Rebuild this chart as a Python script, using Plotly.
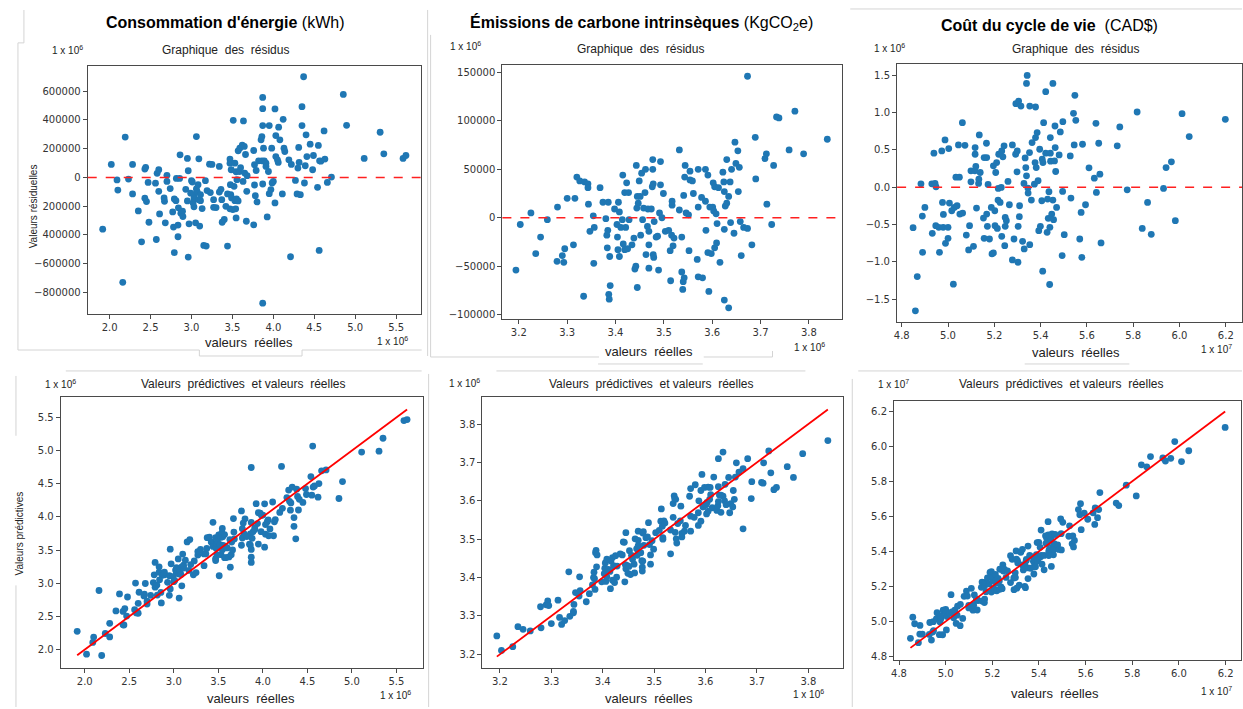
import plotly.graph_objects as go

# ---------------- DATA ----------------
# Energy consumption: actual values (x 1e6 kWh) and residuals (x 1000 kWh)
energy_actual = [1.915,2.02,2.09,2.10,2.19,2.16,2.23,2.28,2.28,2.35,
 2.39,2.43,2.44,2.43,2.45,2.47,2.48,2.57,2.56,2.58,
 2.60,2.60,2.61,2.665,2.67,2.68,2.70,2.70,2.74,2.77,
 2.78,2.79,2.79,2.81,2.815,2.835,2.835,2.84,2.855,2.86,
 2.87,2.89,2.895,2.93,2.95,2.95,2.96,2.96,2.97,2.99,
 3.00,3.01,3.02,3.03,3.03,3.03,3.05,3.06,3.06,3.07,
 3.08,3.09,3.09,3.10,3.11,3.11,3.13,3.15,3.17,3.18,
 3.19,3.22,3.23,3.25,3.27,3.27,3.30,3.34,3.34,3.36,
 3.37,3.375,3.40,3.42,3.44,3.44,3.47,3.47,3.47,3.475,
 3.48,3.485,3.49,3.505,3.51,3.52,3.53,3.53,3.54,3.545,
 3.545,3.55,3.555,3.57,3.57,3.585,3.59,3.60,3.62,3.63,
 3.635,3.645,3.65,3.66,3.67,3.675,3.68,3.76,3.76,3.77,
 3.77,3.78,3.79,3.80,3.82,3.85,3.86,3.86,3.87,3.87,
 3.87,3.87,3.87,3.88,3.89,3.91,3.91,3.925,3.94,3.95,
 3.95,3.97,3.98,3.985,4.00,4.02,4.02,4.03,4.03,4.05,
 4.06,4.065,4.08,4.11,4.12,4.13,4.14,4.19,4.21,4.22,
 4.27,4.29,4.30,4.31,4.315,4.33,4.35,4.35,4.37,4.38,
 4.39,4.40,4.41,4.45,4.48,4.49,4.54,4.55,4.56,4.565,
 4.58,4.62,4.63,4.66,4.71,4.855,4.895,5.11,5.305,5.35,
 5.585,5.62]
energy_resid_k = [-360,90,-18,-88,280,-730,-12,90,-115,-233,
 -448,58,70,-145,-168,-35,-312,-432,-40,28,
 53,-97,-254,-143,-166,-316,14,-28,-78,-240,
 -346,-524,-150,-162,-7,-332,-413,-212,-7,157,
 -249,-235,-272,-83,132,-164,46,-554,-323,-110,
 -23,-32,-178,-143,-205,-120,-316,-80,284,-101,
 -51,-155,129,-339,-120,-162,-217,-473,-23,-478,
 -92,92,-106,90,-155,-208,-210,76,-102,-83,
 -155,-312,-293,-201,-115,-478,127,99,-219,-51,
 -120,53,-143,-224,397,-62,99,-162,-219,39,
 -282,-150,-16,185,-164,41,203,67,224,-28,
 393,215,30,159,-305,-97,12,-330,187,88,
 -53,-127,48,-171,115,261,284,115,-46,360,
 478,556,-875,203,115,99,76,-275,41,-113,
 360,-85,203,-39,-28,-178,476,291,145,122,
 104,349,261,-115,404,203,180,122,-552,90,
 -21,-115,65,208,104,-120,360,492,700,-39,
 81,296,145,231,53,152,-69,222,-508,115,
 113,323,127,-35,2,577,362,132,314,164,
 132,152]

# Embodied carbon: actual (x 1e6 kgCO2e) and residuals (x 1000 kgCO2e)
carbon_actual = [3.194,3.203,3.225,3.235,3.245,3.259,3.279,3.280,3.29,3.293,
 3.295,3.300,3.313,3.316,3.32,3.326,3.334,3.336,3.343,3.343,
 3.344,3.347,3.354,3.356,3.355,3.368,3.374,3.380,3.384,3.382,
 3.383,3.385,3.386,3.387,3.389,3.388,3.398,3.403,3.404,3.405,
 3.406,3.408,3.408,3.411,3.414,3.415,3.416,3.419,3.419,3.421,
 3.423,3.425,3.427,3.428,3.434,3.438,3.44,3.442,3.443,3.444,
 3.445,3.445,3.447,3.449,3.451,3.452,3.454,3.456,3.458,3.461,
 3.462,3.463,3.466,3.467,3.469,3.469,3.469,3.474,3.476,3.477,
 3.477,3.478,3.478,3.479,3.48,3.484,3.487,3.489,3.491,3.493,
 3.493,3.496,3.499,3.503,3.510,3.514,3.513,3.517,3.517,3.516,
 3.519,3.521,3.532,3.532,3.537,3.537,3.539,3.54,3.542,3.541,
 3.544,3.543,3.546,3.551,3.552,3.554,3.554,3.559,3.561,3.569,
 3.571,3.571,3.571,3.580,3.578,3.586,3.587,3.586,3.591,3.591,
 3.593,3.595,3.598,3.601,3.602,3.603,3.605,3.605,3.608,3.609,
 3.61,3.616,3.613,3.622,3.625,3.625,3.624,3.625,3.627,3.63,
 3.63,3.634,3.634,3.637,3.638,3.64,3.645,3.647,3.649,3.653,
 3.654,3.656,3.658,3.66,3.665,3.673,3.673,3.682,3.689,3.69,
 3.709,3.712,3.713,3.723,3.727,3.733,3.738,3.759,3.771,3.789,
 3.838]
carbon_resid_k = [-54,-7,5,-37,-20,-2,-45,11,-39,-46,
 -32,20,-28,20,42,38,-81,37,35,31,
 14,-14,2,-10,-47,31,16,-1,-13,-18,
 -31,16,-79,-84,-70,-40,9,-7,-20,-33,
 16,6,-40,-10,-2,44,-27,-33,26,-10,
 36,-32,26,-2,-28,-21,-53,-50,54,10,
 22,-72,15,38,22,-18,46,-2,10,26,
 50,-38,-9,9,-52,-28,-14,9,32,60,
 50,35,-38,-41,-4,-20,-19,-54,5,58,
 34,0,25,-14,-13,-65,-34,13,17,-18,
 -29,-21,70,8,-20,-56,-74,-66,-62,23,
 54,42,5,3,-34,48,39,38,25,-43,
 50,11,-61,-62,21,50,-13,17,44,-36,
 -76,11,-37,11,36,7,32,-31,4,-26,
 -6,-46,31,47,-12,-85,37,27,12,15,
 60,22,-93,37,-5,50,-16,78,56,69,
 27,52,-4,-39,-10,146,-11,-28,83,40,
 61,66,14,-7,54,104,103,70,110,66,
 81]

# Life-cycle cost: actual (x 1e7 CAD$) and residuals (x 1e6 CAD$)
cost_actual = [4.849,4.859,4.867,4.883,4.889,4.890,4.900,4.932,4.930,4.939,
 4.944,4.948,4.947,4.963,4.960,4.973,4.976,4.980,4.979,4.987,
 4.989,5.000,5.000,5.003,5.006,5.016,5.027,5.023,5.034,5.039,
 5.045,5.049,5.051,5.062,5.063,5.073,5.079,5.089,5.093,5.099,
 5.099,5.110,5.116,5.117,5.117,5.120,5.123,5.132,5.135,5.133,
 5.139,5.153,5.156,5.156,5.167,5.167,5.166,5.170,5.173,5.179,
 5.187,5.190,5.196,5.196,5.202,5.203,5.206,5.210,5.213,5.216,
 5.217,5.219,5.225,5.230,5.232,5.232,5.237,5.242,5.245,5.247,
 5.247,5.252,5.259,5.265,5.278,5.278,5.285,5.293,5.292,5.298,
 5.299,5.302,5.303,5.305,5.309,5.308,5.315,5.322,5.329,5.328,
 5.333,5.336,5.339,5.339,5.342,5.345,5.346,5.352,5.353,5.353,
 5.360,5.363,5.373,5.378,5.376,5.378,5.381,5.385,5.389,5.392,
 5.396,5.399,5.405,5.409,5.407,5.413,5.410,5.422,5.422,5.428,
 5.430,5.433,5.436,5.439,5.440,5.442,5.443,5.442,5.448,5.453,
 5.453,5.456,5.460,5.462,5.463,5.465,5.469,5.480,5.485,5.495,
 5.496,5.493,5.502,5.528,5.531,5.542,5.545,5.548,5.552,5.569,
 5.575,5.578,5.581,5.594,5.609,5.632,5.639,5.641,5.651,5.656,
 5.661,5.731,5.742,5.774,5.817,5.839,5.862,5.878,5.931,5.942,
 5.965,5.982,6.011,6.042,6.198]
cost_resid_m = [-0.543,-1.655,-1.197,0.044,-0.387,-0.872,-0.271,-0.618,0.044,0.454,
 0.049,0.004,-0.516,-0.872,-0.538,0.485,-0.205,-0.365,-0.538,0.632,
 -0.752,-0.685,-0.538,0.516,-0.214,-0.316,-0.271,-1.299,0.133,-0.249,
 0.565,0.133,-0.360,0.863,-0.347,0.560,-0.641,-0.841,-0.516,0.071,
 0.218,-0.792,0.218,0.529,0.440,0.276,-0.280,0.049,0.698,0.107,
 0.196,-0.414,-0.685,0.396,-0.360,0.396,0.587,-0.525,0.036,-0.694,
 -0.271,-0.894,-0.881,0.285,-0.316,-0.516,0.196,0.329,-0.552,-0.173,
 -0.018,0.440,-0.205,-0.004,-0.658,0.485,0.405,0.552,-0.783,-0.405,
 -0.525,-0.449,0.076,-0.236,0.565,-0.974,-0.694,1.117,0.440,0.205,
 0.485,-1.005,-0.525,1.152,-0.249,-0.396,1.085,-0.725,-0.827,0.049,
 0.391,0.262,0.151,1.388,1.495,-0.013,-0.080,0.463,1.085,-0.770,
 -0.173,0.596,0.040,1.072,0.329,0.663,0.262,0.730,0.085,-0.583,
 0.507,-0.525,-0.182,-1.125,0.374,0.863,0.329,1.277,0.454,-0.605,
 -0.160,-0.418,-0.062,-1.303,-0.538,0.663,0.347,0.454,-0.360,1.388,
 -0.173,-0.436,0.351,0.818,0.529,0.209,-0.271,0.431,0.738,-0.058,
 0.876,-0.916,-0.636,0.418,-0.147,0.988,0.565,1.228,0.894,-0.694,
 -0.338,-0.939,0.574,-0.236,0.258,0.120,0.854,-0.071,0.587,0.173,
 -0.747,0.552,0.805,-0.036,1.005,-0.552,-0.205,-0.632,-0.018,0.262,
 0.338,-0.449,0.983,0.676,0.907]

# Tick labels
energy_res_ticks = [-800000,-600000,-400000,-200000,0,200000,400000,600000]
energy_res_labels = ["\u2212800000","\u2212600000","400000","200000","0","200000","400000","600000"]
carbon_res_ticks = [-100000,-50000,0,50000,100000,150000]
carbon_res_labels = ["\u2212100000","\u221250000","0","50000","100000","150000"]
cost_res_ticks = [-1.5,-1.0,-0.5,0.0,0.5,1.0,1.5]
cost_res_labels = ["\u22121.5","\u22121.0","\u22120.5","0.0","0.5","1.0","1.5"]
energy_ticks = [2.0,2.5,3.0,3.5,4.0,4.5,5.0,5.5]
carbon_ticks = [3.2,3.3,3.4,3.5,3.6,3.7,3.8]
cost_ticks = [4.8,5.0,5.2,5.4,5.6,5.8,6.0,6.2]

# Derived: residual value in kWh / kgCO2e, and predicted = actual - residual (same scale as actual)
energy_resid = [r * 1000 for r in energy_resid_k]
carbon_resid = [r * 1000 for r in carbon_resid_k]
energy_pred = [a - r / 1e6 for a, r in zip(energy_actual, energy_resid)]
carbon_pred = [a - r / 1e6 for a, r in zip(carbon_actual, carbon_resid)]
cost_pred = [a - r / 10 for a, r in zip(cost_actual, cost_resid_m)]

# ---------------- FIGURE ----------------
W, H = 1243, 709
def fx(p): return p / W
def fy(p): return 1 - p / H

BLUE = "#1f77b4"
TICKFONT = dict(family="DejaVu Sans", size=10, color="#333333")
TXT = "Liberation Sans"

fig = go.Figure()

def axis(dom, rng, tickvals, anchor, ticktext=None, fmt=None):
    d = dict(domain=dom, range=rng, tickvals=tickvals, anchor=anchor,
             showline=True, mirror=True, linecolor="#4a4a4a", linewidth=1.2,
             ticks="outside", ticklen=4, tickcolor="#4a4a4a", tickwidth=1,
             showgrid=False, zeroline=False, tickfont=TICKFONT, fixedrange=True)
    if ticktext is not None:
        d["ticktext"] = ticktext
    if fmt is not None:
        d["tickformat"] = fmt
    return d

panels = [
    # (xdom px, ydom px, xrange, yrange, xticks, yticks, yticktext, xfmt, yfmt)
    ((85, 419), (66, 315), [1.732, 5.80], [-951000, 776000], energy_ticks, energy_res_ticks, energy_res_labels, ".1f", None),
    ((501, 842), (65, 320), [3.166, 3.869], [-104600, 157800], carbon_ticks, carbon_res_ticks, carbon_res_labels, ".1f", None),
    ((897, 1243), (64, 323), [4.78, 6.27], [-1.806, 1.65], cost_ticks, cost_res_ticks, cost_res_labels, ".1f", None),
    ((58, 421), (398, 670), [1.731, 5.795], [1.72, 5.81], energy_ticks, energy_ticks, None, ".1f", ".1f"),
    ((481, 843), (398, 670), [3.166, 3.868], [3.164, 3.871], carbon_ticks, carbon_ticks, None, ".1f", ".1f"),
    ((894, 1242), (402, 662), [4.779, 6.266], [4.779, 6.259], cost_ticks, cost_ticks, None, ".1f", ".1f"),
]

layout_axes = {}
for i, (xd, yd, xr, yr, xt, yt, ytt, xf, yf) in enumerate(panels, start=1):
    sfx = "" if i == 1 else str(i)
    layout_axes["xaxis" + sfx] = axis([fx(xd[0]), fx(xd[1])], xr, xt, "y" + sfx, fmt=xf)
    layout_axes["yaxis" + sfx] = axis([fy(yd[1]), fy(yd[0])], yr, yt, "x" + sfx, ticktext=ytt, fmt=yf)

series = [
    (energy_actual, energy_resid),
    (carbon_actual, carbon_resid),
    (cost_actual, cost_resid_m),
    (energy_actual, energy_pred),
    (carbon_actual, carbon_pred),
    (cost_actual, cost_pred),
]
for i, (xs, ys) in enumerate(series, start=1):
    sfx = "" if i == 1 else str(i)
    fig.add_trace(go.Scatter(x=xs, y=ys, mode="markers", xaxis="x" + sfx, yaxis="y" + sfx,
                             marker=dict(color=BLUE, size=6.8, line=dict(width=0)),
                             showlegend=False, hoverinfo="skip"))

# identity lines in prediction panels (min..max of actual values)
for i, xs in [(4, energy_actual), (5, carbon_actual), (6, cost_actual)]:
    lo, hi = min(xs), max(xs)
    fig.add_trace(go.Scatter(x=[lo, hi], y=[lo, hi], mode="lines", xaxis="x" + str(i), yaxis="y" + str(i),
                             line=dict(color="#ff0000", width=1.8), showlegend=False, hoverinfo="skip"))

shapes = []
# zero lines in residual panels
for i in (1, 2, 3):
    sfx = "" if i == 1 else str(i)
    shapes.append(dict(type="line", xref="x" + sfx + " domain", yref="y" + sfx, x0=0, x1=1, y0=0, y1=0,
                       line=dict(color="#ff2020", width=1.5, dash="dash")))

# faint frame lines of the original slide composition
deco = [(21, 10, 21, 43), (15, 43, 21, 43), (15, 43, 15, 351), (15, 351, 197, 351), (197, 351, 197, 357),
        (197, 357, 300, 357), (300, 357, 300, 351), (300, 351, 420, 351), (426, 10, 426, 357),
        (429, 35, 429, 358), (429, 358, 598, 358), (703, 358, 772, 358), (772, 352, 772, 358),
        (850, 9, 1243, 9),
        (63, 372, 420, 372), (13, 377, 13, 437), (13, 587, 13, 709),
        (495, 372, 805, 372), (597, 365, 702, 365), (427, 375, 427, 709),
        (858, 372, 1243, 372), (852, 380, 852, 709), (1025, 365, 1130, 365)]
for x0, y0, x1, y1 in deco:
    shapes.append(dict(type="line", xref="paper", yref="paper", x0=fx(x0), y0=fy(y0), x1=fx(x1), y1=fy(y1),
                       line=dict(color="#d4d4d4", width=1), layer="below"))

ann = []
def text(s, x, y, size, family=TXT, color="#111111", angle=0):
    ann.append(dict(text=s, x=fx(x), y=fy(y), xref="paper", yref="paper", showarrow=False,
                    xanchor="center", yanchor="middle", textangle=angle,
                    font=dict(family=family, size=size, color=color)))

# main titles
text("<b>Consommation d'énergie</b> (kWh)", 223, 23, 16, color="#000000")
text("<b>Émissions de carbone intrinsèques</b> (KgCO<sub>2</sub>e)", 641, 23, 16, color="#000000")
text("<b>Coût du cycle de vie</b>  (CAD$)", 1050, 26, 16, color="#000000")

# subplot titles
for x, y in [(223, 50), (640, 49), (1076, 49)]:
    text("Graphique\u00a0 des\u00a0 résidus", x, y, 12, color="#222222")
for x, y in [(241, 385), (651, 385), (1062, 385)]:
    text("Valeurs\u00a0 prédictives\u00a0 et valeurs\u00a0 réelles", x, y, 12, color="#222222")

# x-axis titles
for x, y in [(247, 343), (648, 352), (1076, 353), (249, 700), (648, 700), (1055, 695)]:
    text("valeurs\u00a0 réelles", x, y, 13, color="#222222")

# y-axis titles
text("Valeurs résiduelles", 31, 207, 10, color="#222222", angle=-90)
text("Valeurs prédictives", 17, 535, 10, color="#222222", angle=-90)

# scale labels
for x, y, e in [(65, 50, 6), (464, 46, 6), (889, 48, 6), (391, 342, 6), (809, 348, 6), (1217, 350, 7),
                (58, 385, 6), (394, 697, 6), (463, 384, 6), (808, 696, 6), (893, 385, 7), (1217, 693, 7)]:
    text("1 x 10<sup>%d</sup>" % e, x, y, 10, color="#222222")

fig.update_layout(width=W, height=H, margin=dict(l=0, r=0, t=0, b=0),
                  paper_bgcolor="white", plot_bgcolor="white",
                  shapes=shapes, annotations=ann, **layout_axes)

fig.write_html("out.html", config={"displayModeBar": False})
